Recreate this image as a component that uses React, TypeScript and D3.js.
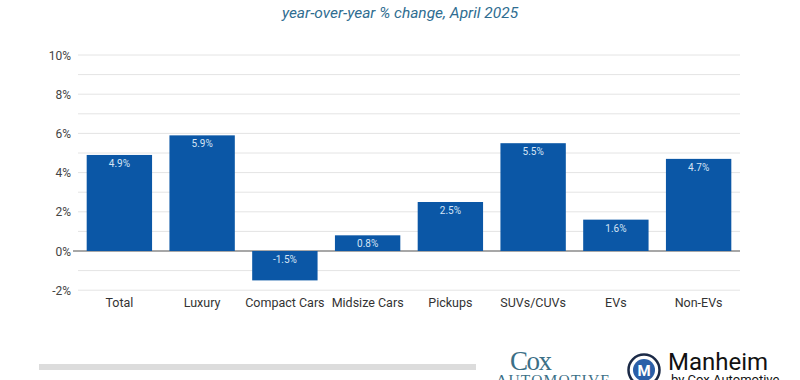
import React from "react";
import * as d3 from "d3";

const categories = ["Total", "Luxury", "Compact Cars", "Midsize Cars", "Pickups", "SUVs/CUVs", "EVs", "Non-EVs"];
const values = [4.9, 5.9, -1.5, 0.8, 2.5, 5.5, 1.6, 4.7];
const majorTicks = [-2, 0, 2, 4, 6, 8, 10];
const gridTicks = [-2, -1, 0, 1, 2, 3, 4, 5, 6, 7, 8, 9, 10];
const subtitle = "year-over-year % change, April 2025";

const W = 800;
const H = 380;
const left = 78;
const right = 740;
const top = 55;
const bottom = 290.2;

export default function App() {
  const x = d3.scaleBand<string>().domain(categories).range([left, right]).paddingInner(0.21).paddingOuter(0.105);
  const y = d3.scaleLinear().domain([-2, 10]).range([bottom, top]);
  const font = "Roboto, 'Noto Sans', sans-serif";
  return (
    <svg width={W} height={H} style={{ position: "absolute", left: 0, top: 0, background: "#fff" }} fontFamily={font}>
      <text x={400} y={18} textAnchor="middle" fontSize={15.5} fontStyle="italic" fill="#2f6d91">{subtitle}</text>
      {gridTicks.map((t) => (
        <line key={t} x1={t === 0 ? 73 : left} x2={right} y1={y(t)} y2={y(t)} stroke={t === 0 ? "#8a8a8a" : "#e4e4e4"} strokeWidth={t === 0 ? 1.3 : 1} />
      ))}
      {majorTicks.map((t) => (
        <text key={t} x={71} y={y(t) + 4.5} textAnchor="end" fontSize={12} fill="#444">{`${t}%`}</text>
      ))}
      {categories.map((c, i) => {
        const v = values[i];
        const x0 = x(c) as number;
        const y0 = y(Math.max(0, v));
        const h = Math.abs(y(v) - y(0));
        return (
          <g key={c}>
            <rect x={x0} y={y0} width={x.bandwidth()} height={h} fill="#0b57a6" />
            <text x={x0 + x.bandwidth() / 2} y={y0 + 12} textAnchor="middle" fontSize={10} fill="#d5e4f5">{`${v.toFixed(1)}%`}</text>
            <text x={x0 + x.bandwidth() / 2} y={307} textAnchor="middle" fontSize={12.5} fill="#333">{c}</text>
          </g>
        );
      })}
      <rect x={39} y={364} width={437} height={6} fill="#dcdcdc" />
      <text x={510} y={370} fontSize={27} fontFamily="'Liberation Serif', 'DejaVu Serif', serif" fill="#3b6f86" letterSpacing={-1.5}>Cox</text>
      <text x={496} y={385} fontSize={15.5} fontFamily="'Liberation Serif', 'DejaVu Serif', serif" fill="#3b6f86" letterSpacing={1.2}>AUTOMOTIVE</text>
      <circle cx={644} cy={370} r={15.5} fill="#fff" stroke="#1b2a47" strokeWidth={2.5} />
      <circle cx={644} cy={370} r={11} fill="#2a5fa8" />
      <text x={644} y={376} textAnchor="middle" fontSize={15} fontWeight="bold" fill="#fff">M</text>
      <text x={668} y={370} fontSize={24} fill="#111">Manheim</text>
      <text x={671} y={384} fontSize={13} fill="#111">by Cox Automotive</text>
    </svg>
  );
}
